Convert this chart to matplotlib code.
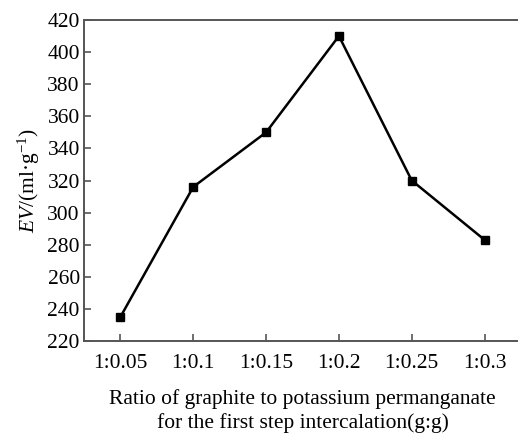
import matplotlib
matplotlib.use("Agg")
import matplotlib.pyplot as plt

categories = ["1:0.05", "1:0.1", "1:0.15", "1:0.2", "1:0.25", "1:0.3"]
ev_values = [235, 316, 350, 410, 320, 283]
y_ticks = [220, 240, 260, 280, 300, 320, 340, 360, 380, 400, 420]

plt.rcParams['font.family'] = ['Liberation Serif', 'DejaVu Serif']
plt.rcParams['mathtext.fontset'] = 'custom'
plt.rcParams['mathtext.rm'] = 'Liberation Serif'
plt.rcParams['mathtext.it'] = 'Liberation Serif:italic'

W, H = 518, 433
fig = plt.figure(figsize=(W/100, H/100), dpi=100)
ax = fig.add_axes([84/W, 1 - 341/H, (521-84)/W, (341-20)/H])

x = list(range(len(categories)))
ax.plot(x, ev_values, color='black', lw=1.8, marker='s', markersize=5.5, zorder=3)

ax.set_xlim(-0.5, 5.5)
ax.set_ylim(220, 420)
ax.set_xticks(x)
ax.set_xticklabels(categories)
ax.set_yticks(y_ticks)

for s in ['left', 'bottom', 'top', 'right']:
    ax.spines[s].set_color('#555555')
    ax.spines[s].set_linewidth(1.4)

ax.tick_params(direction='in', length=5, width=1.2, color='#555555', labelsize=15.5)
ax.tick_params(axis='x', pad=9)
ax.tick_params(axis='y', pad=3)

ax.set_ylabel(r'$\mathit{EV}$/(ml·g$^{-1}$)', fontsize=15.5, labelpad=4)
ax.set_xlabel('Ratio of graphite to potassium permanganate\nfor the first step intercalation(g:g)',
              fontsize=15.5, labelpad=12, linespacing=1.25)

fig.savefig('out.png', dpi=100)
